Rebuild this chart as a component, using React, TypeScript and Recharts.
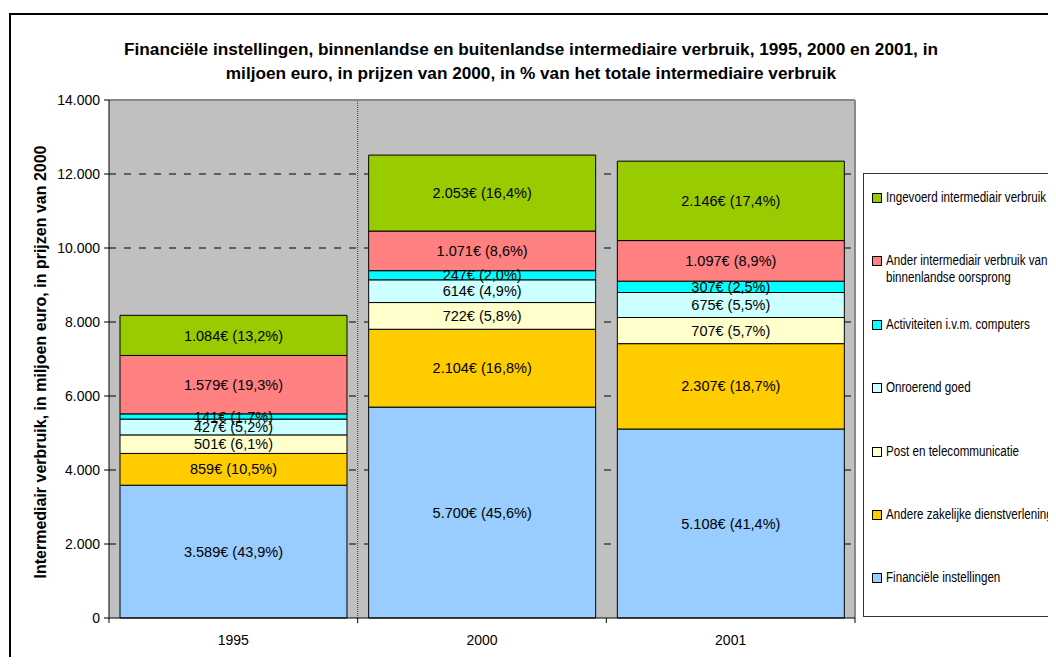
import React from 'react';
import { BarChart, Bar, XAxis, YAxis, CartesianGrid, LabelList, ReferenceLine } from 'recharts';

const years = ['1995', '2000', '2001'];

const financieleInstellingen = [3589, 5700, 5108];
const financieleInstellingenPct = ['43,9', '45,6', '41,4'];
const andereZakelijke = [859, 2104, 2307];
const andereZakelijkePct = ['10,5', '16,8', '18,7'];
const postTelecom = [501, 722, 707];
const postTelecomPct = ['6,1', '5,8', '5,7'];
const onroerendGoed = [427, 614, 675];
const onroerendGoedPct = ['5,2', '4,9', '5,5'];
const computers = [141, 247, 307];
const computersPct = ['1,7', '2,0', '2,5'];
const anderBinnenlands = [1579, 1071, 1097];
const anderBinnenlandsPct = ['19,3', '8,6', '8,9'];
const ingevoerd = [1084, 2053, 2146];
const ingevoerdPct = ['13,2', '16,4', '17,4'];

const yTicks = [0, 2000, 4000, 6000, 8000, 10000, 12000, 14000];
const gridTicks = [2000, 4000, 6000, 8000, 10000, 12000];

const titleLines = [
  'Financiële instellingen, binnenlandse en buitenlandse intermediaire verbruik, 1995, 2000 en 2001, in',
  'miljoen euro, in prijzen van 2000, in % van het totale intermediaire verbruik',
];
const yAxisTitle = 'Intermediair verbruik, in miljoen euro, in prijzen van 2000';

const series = [
  { key: 'fin', name: 'Financiële instellingen', color: '#99CCFF', values: financieleInstellingen, pct: financieleInstellingenPct },
  { key: 'azd', name: 'Andere zakelijke dienstverlening', color: '#FFCC00', values: andereZakelijke, pct: andereZakelijkePct },
  { key: 'post', name: 'Post en telecommunicatie', color: '#FFFFCC', values: postTelecom, pct: postTelecomPct },
  { key: 'onr', name: 'Onroerend goed', color: '#CCFFFF', values: onroerendGoed, pct: onroerendGoedPct },
  { key: 'comp', name: 'Activiteiten i.v.m. computers', color: '#00FFFF', values: computers, pct: computersPct },
  { key: 'ander', name: 'Ander intermediair verbruik van binnenlandse oorsprong', color: '#FF8080', values: anderBinnenlands, pct: anderBinnenlandsPct },
  { key: 'ing', name: 'Ingevoerd intermediair verbruik', color: '#99CC00', values: ingevoerd, pct: ingevoerdPct },
];

const fmt = (v: number) => String(v).replace(/\B(?=(\d{3})+(?!\d))/g, '.');

const data = years.map((year, i) => {
  const row: any = { year };
  series.forEach((s) => {
    row[s.key] = s.values[i];
    row[s.key + 'Label'] = `${fmt(s.values[i])}€ (${s.pct[i]}%)`;
  });
  return row;
});

const numTicks = [0, 0.5, 1, 1.5, 2, 2.5, 3];

const XTick = (props: any) => {
  const { x, y, payload } = props;
  const v = payload.value;
  if (Number.isInteger(v)) {
    return <line x1={x} x2={x} y1={y} y2={y + 5} stroke="#000" strokeWidth={1} />;
  }
  return (
    <text x={x} y={y + 22} textAnchor="middle" dominantBaseline="central" fontSize={14} fill="#000">
      {years[Math.floor(v)]}
    </text>
  );
};

const FONT = '"Liberation Sans", Arial, sans-serif';

export default function App() {
  const legendItems = [...series].reverse();
  return (
    <div style={{ position: 'relative', width: 1056, height: 665, margin: -8, overflow: 'hidden', background: '#fff', fontFamily: FONT }}>
      <div style={{ position: 'absolute', left: 9, top: 13, width: 1100, height: 700, border: '2px solid #000', boxSizing: 'border-box' }} />
      <div style={{ position: 'absolute', left: 0, top: 37, width: 1062, textAlign: 'center', fontWeight: 'bold', fontSize: 17.2, lineHeight: '24px', color: '#000', whiteSpace: 'nowrap' }}>
        {titleLines.map((t, i) => (
          <div key={i}>{t}</div>
        ))}
      </div>
      <div style={{ position: 'absolute', left: 41 - 260, top: 362 - 10, width: 520, height: 20, lineHeight: '20px', textAlign: 'center', fontWeight: 'bold', fontSize: 16, transform: 'rotate(-90deg)', transformOrigin: 'center center', color: '#000', whiteSpace: 'nowrap' }}>
        {yAxisTitle}
      </div>
      <div style={{ position: 'absolute', left: 0, top: 0 }}>
        <BarChart
          width={1056}
          height={665}
          data={data}
          margin={{ top: 100, right: 201, bottom: 17, left: 49 }}
          barCategoryGap={11}
          style={{ fontFamily: FONT }}
        >
          <CartesianGrid fill="#C0C0C0" vertical={false} horizontalValues={gridTicks} stroke="#000" strokeDasharray="7 8" />
          <XAxis xAxisId="num" type="number" dataKey="pos" domain={[0, 3]} allowDataOverflow ticks={numTicks} interval={0} tick={<XTick />} tickLine={false} tickSize={0} tickMargin={0} height={30} axisLine={{ stroke: '#000' }} />
          <XAxis xAxisId="cat" dataKey="year" hide height={0} />
          <YAxis
            domain={[0, 14000]}
            ticks={yTicks}
            interval={0}
            tickFormatter={(v: number) => fmt(v)}
            width={60}
            tickSize={5}
            tickMargin={4}
            tick={{ fill: '#000', fontSize: 14 }}
            tickLine={{ stroke: '#000' }}
            axisLine={{ stroke: '#000' }}
          />
          <ReferenceLine xAxisId="num" y={14000} stroke="#8A8A8A" strokeWidth={2} />
          <ReferenceLine xAxisId="num" x={3} stroke="#8A8A8A" strokeWidth={2} />
          <ReferenceLine xAxisId="num" x={1} stroke="#444" strokeDasharray="1 1" />
          {series.map((s) => (
            <Bar key={s.key} xAxisId="cat" dataKey={s.key} stackId="a" fill={s.color} stroke="#000" strokeWidth={1} isAnimationActive={false}>
              <LabelList dataKey={s.key + 'Label'} position="center" fill="#000" fontSize={14.5} fontFamily={FONT} />
            </Bar>
          ))}
        </BarChart>
      </div>
      <div style={{ position: 'absolute', left: 863, top: 173, width: 220, height: 444, border: '1px solid #333', boxSizing: 'border-box', background: '#fff' }}>
        {legendItems.map((s, i) => (
          <div key={s.key} style={{ position: 'absolute', left: 8, top: 15 + i * 63.4, display: 'flex', alignItems: 'flex-start' }}>
            <div style={{ width: 10, height: 10, marginTop: 4, background: s.color, border: '1px solid #000', boxSizing: 'border-box', flex: 'none' }} />
            <div style={{ marginLeft: 4, width: 205, fontSize: 14, lineHeight: '17px', color: '#000', transform: 'scaleX(0.83)', transformOrigin: 'left top' }}>
              {s.name}
            </div>
          </div>
        ))}
      </div>
    </div>
  );
}
